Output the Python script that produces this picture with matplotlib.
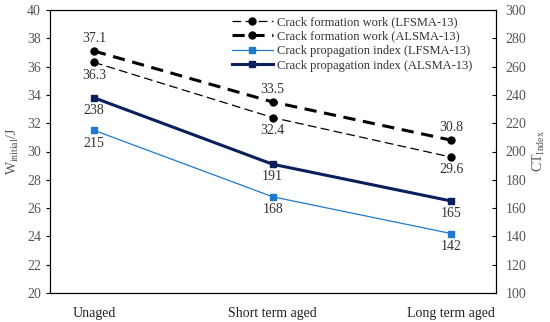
import matplotlib

matplotlib.use("Agg")
import matplotlib.pyplot as plt

categories = ["Unaged", "Short term aged", "Long term aged"]
work_lf = [36.3, 32.4, 29.6]
work_al = [37.1, 33.5, 30.8]
ct_lf = [215, 168, 142]
ct_al = [238, 191, 165]

plt.rcParams["font.family"] = ["Liberation Serif", "DejaVu Serif"]
plt.rcParams["font.size"] = 10

fig = plt.figure(figsize=(5.5, 3.22), dpi=100)
ax = fig.add_axes([50 / 550, 29 / 322, 446 / 550, 283 / 322])
ax2 = ax.twinx()

x = list(range(len(categories)))
l1, = ax.plot(x, work_lf, "--o", color="black", lw=0.9, ms=5, dashes=(7, 3.5),
              label="Crack formation work (LFSMA-13)")
l2, = ax.plot(x, work_al, "--o", color="black", lw=2.2, ms=5, dashes=(4, 2.5),
              label="Crack formation work (ALSMA-13)")
l3, = ax2.plot(x, ct_lf, "-s", color="#1F7ACD", lw=0.9, ms=5,
               label="Crack propagation index (LFSMA-13)")
l4, = ax2.plot(x, ct_al, "-s", color="#0A1F5C", lw=2.2, ms=5,
               label="Crack propagation index (ALSMA-13)")

ax.set_xlim(-0.246, 2.25)
ax.set_ylim(20, 40)
ax.set_yticks(range(20, 41, 2))
ax2.set_ylim(100, 300)
ax2.set_yticks(range(100, 301, 20))
ax.set_xticks(x)
ax.set_xticklabels(categories)
ax.tick_params(axis="x", length=0, pad=10, labelsize=10, colors="#222222")
ax.tick_params(axis="y", direction="out", length=3, labelsize=10, labelcolor="#555555")
ax2.tick_params(axis="y", direction="in", length=3, pad=7, labelsize=10, labelcolor="#555555")

ax.set_ylabel(r"W$_{\mathregular{initial}}$/J", color="#555555", labelpad=4)
ax2.set_ylabel(r"CT$_{\mathregular{Index}}$", color="#555555", labelpad=3)

# data labels
txt = dict(ha="center", fontsize=10, color="#333333")
for i, v in enumerate(work_al):
    ax.annotate(f"{v}", (i, v), xytext=(0, 4.5), textcoords="offset points", va="bottom", **txt)
for i, v in enumerate(work_lf):
    ax.annotate(f"{v}", (i, v), xytext=(0, -4.5), textcoords="offset points", va="top", **txt)
for i, v in enumerate(ct_al):
    ax2.annotate(f"{v}", (i, v), xytext=(0, -4.5), textcoords="offset points", va="top", **txt)
for i, v in enumerate(ct_lf):
    ax2.annotate(f"{v}", (i, v), xytext=(0, -4.5), textcoords="offset points", va="top", **txt)

ax.legend(handles=[l1, l2, l3, l4], loc="upper right", frameon=False, fontsize=9,
          handlelength=3.3, borderaxespad=0.2, borderpad=0.3, labelspacing=0.2,
          handletextpad=0.3, labelcolor="#333333", bbox_to_anchor=(0.96, 1.0))

fig.savefig("out.png", dpi=100)
